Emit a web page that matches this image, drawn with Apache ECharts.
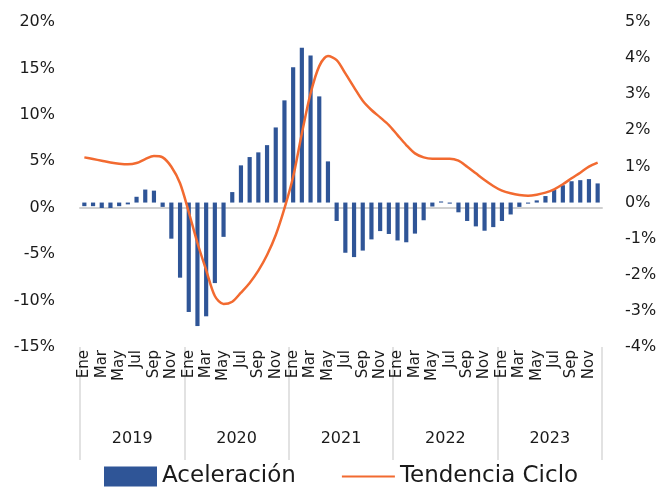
<!DOCTYPE html>
<html>
<head>
<meta charset="utf-8">
<script src="https://cdn.jsdelivr.net/npm/echarts@6/dist/echarts.min.js"></script>
<style>html,body{margin:0;padding:0;background:#fff}#c{width:670px;height:487px}</style>
</head>
<body>
<div id="c"></div>
<script>
const years = ['2019','2020','2021','2022','2023'];
const monthNames = ['Ene','Feb','Mar','Abr','May','Jun','Jul','Ago','Sep','Oct','Nov','Dic'];
// Aceleración (right axis, %)
const aceleracion = [
  -0.10,-0.10,-0.15,-0.15,-0.10,-0.05, 0.16, 0.36, 0.33,-0.12,-1.00,-2.08,
  -3.03,-3.42,-3.15,-2.23,-0.95, 0.29, 1.03, 1.26, 1.39, 1.59, 2.08, 2.83,
   3.75, 4.29, 4.07, 2.94, 1.14,-0.51,-1.39,-1.51,-1.33,-1.02,-0.79,-0.87,
  -1.05,-1.10,-0.86,-0.49,-0.11, 0.03,-0.03,-0.27,-0.51,-0.66,-0.78,-0.68,
  -0.51,-0.33,-0.12,-0.03, 0.06, 0.18, 0.36, 0.48, 0.59, 0.62, 0.65, 0.53
];
// Tendencia Ciclo (left axis, %)
const tendencia = [
   5.42, 5.24, 5.06, 4.88, 4.74, 4.67, 4.81, 5.24, 5.56, 5.42, 4.41, 2.63,
  -0.46,-3.80,-6.71,-9.51,-10.37,-10.12,-9.15,-8.10,-6.78,-5.10,-2.94,-0.07,
   3.34, 8.00,12.30,15.25,16.33,15.90,14.46,12.96,11.52,10.52, 9.73, 8.90,
   7.82, 6.75, 5.85, 5.42, 5.28, 5.28, 5.28, 5.06, 4.42, 3.70, 2.98, 2.34,
   1.83, 1.55, 1.37, 1.29, 1.40, 1.62, 1.98, 2.52, 3.17, 3.77, 4.42, 4.85
];
const categories = [];
years.forEach(y => monthNames.forEach(m => categories.push(m + ' ' + y)));

const FONT = 'DejaVu Sans';
const TXT = '#1a1a1a';
const chart = echarts.init(document.getElementById('c'));
chart.setOption({
  animation: false,
  textStyle: { fontFamily: FONT },
  grid: { left: 80, right: 68, top: 22, bottom: 140, containLabel: false },
  legend: {
    left: 104, top: 465, padding: 0,
    itemWidth: 53, itemHeight: 20, itemGap: 45,
    textStyle: { fontFamily: FONT, fontSize: 23, color: TXT },
    data: [
      { name: 'Aceleración', icon: 'rect' },
      { name: 'Tendencia Ciclo', itemStyle: { color: 'rgba(0,0,0,0)', borderWidth: 0 } }
    ]
  },
  xAxis: [
    {
      type: 'category', data: categories, position: 'bottom',
      axisLine: { show: false, onZero: false }, axisTick: { show: false },
      axisLabel: {
        interval: 1, rotate: 90, margin: 3,
        fontFamily: FONT, fontSize: 15, color: TXT,
        formatter: v => v.split(' ')[0]
      }
    },
    {
      type: 'category', data: years, position: 'bottom',
      axisLine: { show: false, onZero: false },
      axisTick: { show: true, length: 113, lineStyle: { color: '#d9d9d9', width: 1.5 } },
      axisLabel: { margin: 84, fontFamily: FONT, fontSize: 16, color: TXT }
    },
    {
      type: 'category', data: categories, position: 'bottom',
      axisLine: { show: true, onZero: true, onZeroAxisIndex: 0, lineStyle: { color: '#d0d0d0', width: 2 } },
      axisTick: { show: false }, axisLabel: { show: false }
    }
  ],
  yAxis: [
    {
      type: 'value', min: -15, max: 20, interval: 5, position: 'left',
      splitLine: { show: false }, axisLine: { show: false }, axisTick: { show: false },
      axisLabel: { margin: 25, fontFamily: FONT, fontSize: 16, color: TXT, formatter: v => v + '%' }
    },
    {
      type: 'value', min: -4, max: 5, interval: 1, position: 'right',
      splitLine: { show: false }, axisLine: { show: false }, axisTick: { show: false },
      axisLabel: { margin: 23, fontFamily: FONT, fontSize: 16, color: TXT, formatter: v => v + '%' }
    }
  ],
  series: [
    {
      name: 'Aceleración', type: 'bar', xAxisIndex: 0, yAxisIndex: 1,
      data: aceleracion, barWidth: '48%',
      itemStyle: { color: '#2F5597' }, z: 2
    },
    {
      name: 'Tendencia Ciclo', type: 'line', xAxisIndex: 0, yAxisIndex: 0,
      data: tendencia, smooth: 0.3, symbol: 'none',
      lineStyle: { color: '#F26A30', width: 2.5 }, itemStyle: { color: '#F26A30' }, z: 3
    }
  ]
});
</script>
</body>
</html>
